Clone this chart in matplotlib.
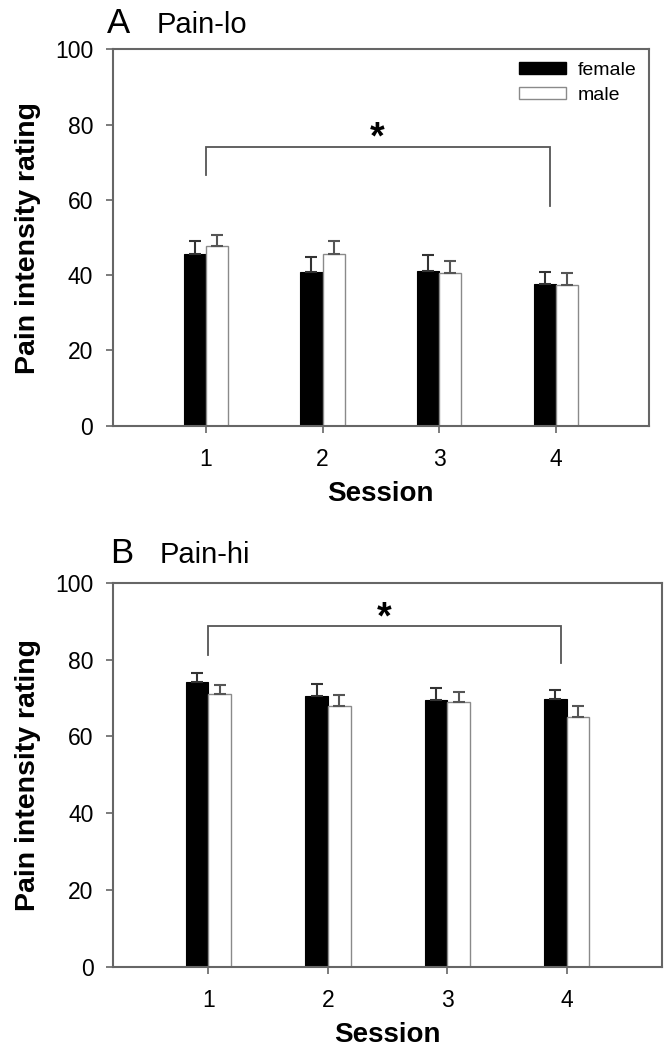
import numpy as np
import matplotlib
matplotlib.use('Agg')
import matplotlib.pyplot as plt
from matplotlib.patches import Patch

plt.rcParams['font.family'] = ['Liberation Sans', 'DejaVu Sans']

# Data
sessions = [1, 2, 3, 4]
session_labels = ['1', '2', '3', '4']

lo_female = [45.6, 40.9, 41.2, 37.7]
lo_female_err = [3.4, 4.0, 4.2, 3.1]
lo_male = [47.8, 45.6, 40.6, 37.4]
lo_male_err = [2.9, 3.5, 3.1, 3.1]

hi_female = [74.1, 70.5, 69.5, 69.6]
hi_female_err = [2.4, 3.2, 3.0, 2.5]
hi_male = [70.9, 67.9, 69.0, 65.0]
hi_male_err = [2.5, 2.9, 2.5, 2.8]

# significance bracket: (y of bar, y of left drop, y of right drop, y of star)
lo_bracket = (74.0, 66.5, 58.5, 76.3)
hi_bracket = (88.7, 81.2, 79.0, 90.8)

spine_col = '#666666'
edge_col = '#8a8a8a'


def draw_panel(ax, female, female_err, male, male_err, bracket, legend=False):
    x = np.array(sessions)
    w = 0.19
    ax.bar(x - w / 2, female, w, color='black', edgecolor='black', linewidth=0.8, zorder=2)
    ax.bar(x + w / 2, male, w, color='white', edgecolor=edge_col, linewidth=1.0, zorder=2)
    ax.errorbar(x - w / 2, female, yerr=[np.zeros(4), female_err], fmt='none',
                ecolor='#333333', elinewidth=1.5, capsize=4, capthick=1.5, zorder=3)
    ax.errorbar(x + w / 2, male, yerr=[np.zeros(4), male_err], fmt='none',
                ecolor='#555555', elinewidth=1.5, capsize=4, capthick=1.5, zorder=3)

    ytop, yl, yr, ystar = bracket
    ax.plot([1.0, 1.0, 3.95, 3.95], [yl, ytop, ytop, yr], color='#555555', lw=1.3,
            solid_joinstyle='miter')
    ax.text(2.47, ystar, '*', ha='center', va='center', fontsize=27, fontweight='bold')

    ax.set_xlim(0.2, 4.8)
    ax.set_ylim(0, 100)
    ax.set_xticks(sessions)
    ax.set_xticklabels(session_labels)
    ax.set_yticks([0, 20, 40, 60, 80, 100])
    ax.tick_params(axis='both', direction='out', length=5, width=1.2, color=spine_col,
                   labelsize=16.5)
    ax.tick_params(axis='y', pad=9)
    ax.tick_params(axis='x', pad=11)
    for s in ax.spines.values():
        s.set_color(spine_col)
        s.set_linewidth(1.5)
    ax.set_ylabel('Pain intensity rating', fontsize=20.5, fontweight='bold', labelpad=10)
    ax.set_xlabel('Session', fontsize=20, fontweight='bold', labelpad=7)

    if legend:
        handles = [Patch(facecolor='black', edgecolor='black', label='female'),
                   Patch(facecolor='white', edgecolor=edge_col, label='male')]
        ax.legend(handles=handles, loc='upper right', frameon=False, fontsize=14,
                  handlelength=2.4, handleheight=0.55, labelspacing=0.4,
                  handletextpad=0.6, borderaxespad=0.25)


fig = plt.figure(figsize=(6.66, 10.5), dpi=100)

ax1 = fig.add_axes([0.1692, 0.5946, 0.9745 - 0.1692, 0.953 - 0.5946])
draw_panel(ax1, lo_female, lo_female_err, lo_male, lo_male_err, lo_bracket, legend=True)

ax2 = fig.add_axes([0.1697, 0.0793, 0.994 - 0.1697, 0.445 - 0.0793])
draw_panel(ax2, hi_female, hi_female_err, hi_male, hi_male_err, hi_bracket)

fig.text(107 / 666, 1 - 32.7 / 1050, 'A', fontsize=25, va='baseline', ha='left')
fig.text(157 / 666, 1 - 32.7 / 1050, 'Pain-lo', fontsize=21, va='baseline', ha='left')
fig.text(110 / 666, 1 - 563 / 1050, 'B', fontsize=25, va='baseline', ha='left')
fig.text(160 / 666, 1 - 563 / 1050, 'Pain-hi', fontsize=21, va='baseline', ha='left')

fig.savefig('out.png', dpi=100)
